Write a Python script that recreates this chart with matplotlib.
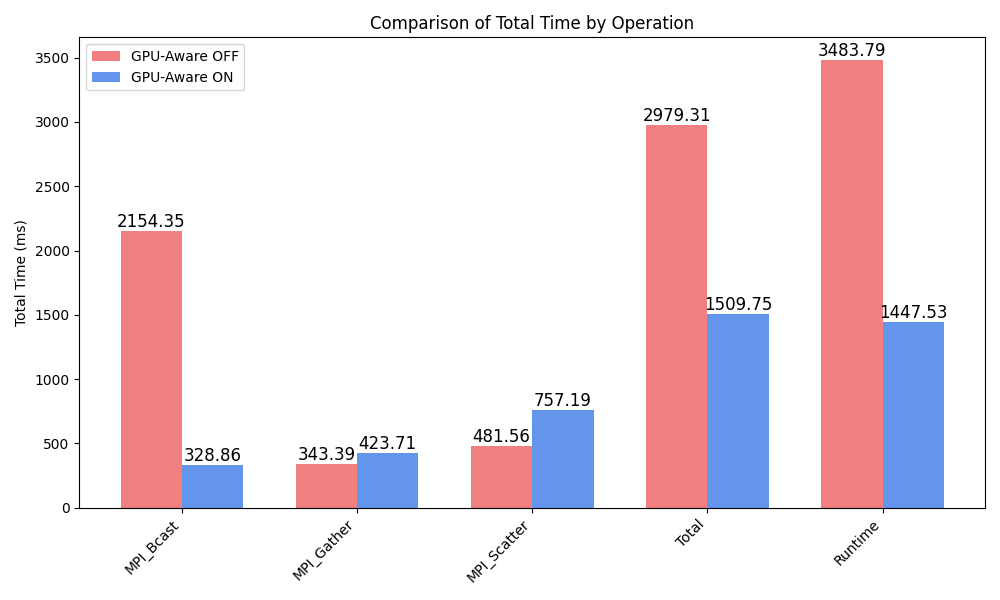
import matplotlib
matplotlib.use("Agg")
import matplotlib.pyplot as plt
import numpy as np

categories = ["MPI_Bcast", "MPI_Gather", "MPI_Scatter", "Total", "Runtime"]
off_values = [2154.35, 343.39, 481.56, 2979.31, 3483.79]
on_values = [328.86, 423.71, 757.19, 1509.75, 1447.53]

fig, ax = plt.subplots(figsize=(10, 6), dpi=100)
x = np.arange(len(categories))
w = 0.35
b1 = ax.bar(x - w / 2, off_values, w, label="GPU-Aware OFF", color="lightcoral")
b2 = ax.bar(x + w / 2, on_values, w, label="GPU-Aware ON", color="cornflowerblue")
ax.bar_label(b1, labels=[f"{v:.2f}" for v in off_values], fontsize=12)
ax.bar_label(b2, labels=[f"{v:.2f}" for v in on_values], fontsize=12)
ax.set_xticks(x)
ax.set_xticklabels(categories, rotation=45, ha="right")
ax.set_ylabel("Total Time (ms)")
ax.set_title("Comparison of Total Time by Operation")
ax.legend(loc="upper left")
fig.tight_layout()
fig.savefig("out.png")
